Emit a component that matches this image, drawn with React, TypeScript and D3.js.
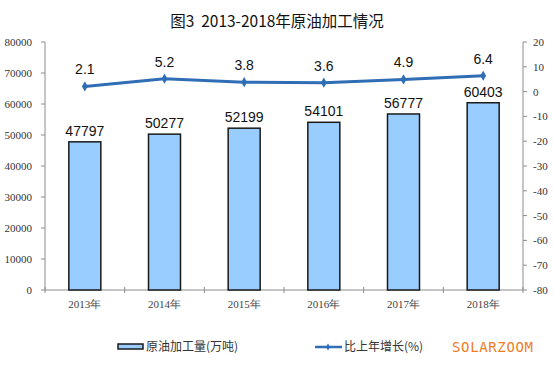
import React from "react";
import * as d3 from "d3";

const categories = ["2013年", "2014年", "2015年", "2016年", "2017年", "2018年"];
const volumes = [47797, 50277, 52199, 54101, 56777, 60403];
const growth = [2.1, 5.2, 3.8, 3.6, 4.9, 6.4];
const leftTicks = [0, 10000, 20000, 30000, 40000, 50000, 60000, 70000, 80000];
const rightTicks = [-80, -70, -60, -50, -40, -30, -20, -10, 0, 10, 20];

const W = 554, H = 381;
const L = 45, R = 523, T = 42, B = 290;

export default function App() {
  const x = d3.scaleBand().domain(categories).range([L, R]).paddingInner(0).paddingOuter(0);
  const yL = d3.scaleLinear().domain([0, 80000]).range([B, T]);
  const yR = d3.scaleLinear().domain([-80, 20]).range([B, T]);
  const bw = 32;
  const cx = (c: string) => (x(c) as number) + x.bandwidth() / 2;
  const line = d3.line<number>().x((_, i) => cx(categories[i])).y((d) => yR(d));
  const serif = "'Liberation Serif', 'Times New Roman', serif";
  const sans = "'Liberation Sans', Arial, sans-serif";
  const axisColor = "#8c8c8c";
  const lineColor = "#2f6eb5";
  const bounds = d3.range(categories.length + 1).map((i) => L + i * x.bandwidth());

  return (
    <svg width={W} height={H} style={{ position: "absolute", left: 0, top: 0, background: "#fff" }}>
      <text x={277} y={27} textAnchor="middle" fontSize={15.5} fontFamily="'Noto Sans CJK SC', sans-serif" fill="#111" xmlSpace="preserve">
        图3  2013-2018年原油加工情况
      </text>
      {/* left axis */}
      <line x1={L} x2={L} y1={T} y2={B} stroke={axisColor} />
      {leftTicks.map((t) => (
        <g key={"l" + t}>
          <line x1={L - 4} x2={L} y1={yL(t)} y2={yL(t)} stroke={axisColor} />
          <text x={32} y={yL(t) + 4} textAnchor="end" fontSize={11} fontFamily={serif} fill="#333">{t}</text>
        </g>
      ))}
      {/* right axis */}
      <line x1={R} x2={R} y1={T} y2={B} stroke={axisColor} />
      {rightTicks.map((t) => (
        <g key={"r" + t}>
          <line x1={R} x2={R + 4} y1={yR(t)} y2={yR(t)} stroke={axisColor} />
          <text x={533} y={yR(t) + 4} textAnchor="start" fontSize={11} fontFamily={serif} fill="#333">{t}</text>
        </g>
      ))}
      {/* bottom axis */}
      <line x1={L} x2={R} y1={B} y2={B} stroke={axisColor} />
      {bounds.map((b, i) => (
        <line key={"b" + i} x1={b} x2={b} y1={B - 3} y2={B + 3} stroke={axisColor} />
      ))}
      {categories.map((c) => (
        <text key={"x" + c} x={cx(c)} y={308} textAnchor="middle" fontSize={11} fontFamily={serif} fill="#444">{c}</text>
      ))}
      {/* bars */}
      {volumes.map((v, i) => (
        <g key={"bar" + i}>
          <rect x={cx(categories[i]) - bw / 2} y={yL(v)} width={bw} height={B - yL(v)} fill="#99ccff" stroke="#1a1a1a" strokeWidth={1.5} />
          <text x={cx(categories[i])} y={yL(v) - 6} textAnchor="middle" fontSize={14} fontFamily={sans} fill="#111">{v}</text>
        </g>
      ))}
      {/* line */}
      <path d={line(growth) as string} fill="none" stroke={lineColor} strokeWidth={3} />
      {growth.map((g, i) => (
        <g key={"p" + i}>
          <path d={d3.symbol(d3.symbolDiamond, 30)() as string} transform={`translate(${cx(categories[i])},${yR(g)})`} fill={lineColor} />
          <text x={cx(categories[i])} y={yR(g) - 12} textAnchor="middle" fontSize={14} fontFamily={sans} fill="#111">{g}</text>
        </g>
      ))}
      {/* legend */}
      <rect x={118} y={344} width={25} height={5} fill="#99ccff" stroke="#1a1a1a" strokeWidth={1.5} />
      <text x={146} y={351} fontSize={12} fontFamily="'Noto Sans CJK SC', sans-serif" fill="#333">原油加工量(万吨)</text>
      <line x1={315} x2={342} y1={347} y2={347} stroke={lineColor} strokeWidth={2.5} />
      <path d={d3.symbol(d3.symbolDiamond, 14)() as string} transform="translate(328,347)" fill={lineColor} />
      <text x={344} y={351} fontSize={12} fontFamily="'Noto Sans CJK SC', sans-serif" fill="#333">比上年增长(%)</text>
      <text x={452} y={352} fontSize={14} textLength={81} fontFamily="'DejaVu Sans Mono', monospace" fill="#f07c1e">SOLARZOOM</text>
    </svg>
  );
}
